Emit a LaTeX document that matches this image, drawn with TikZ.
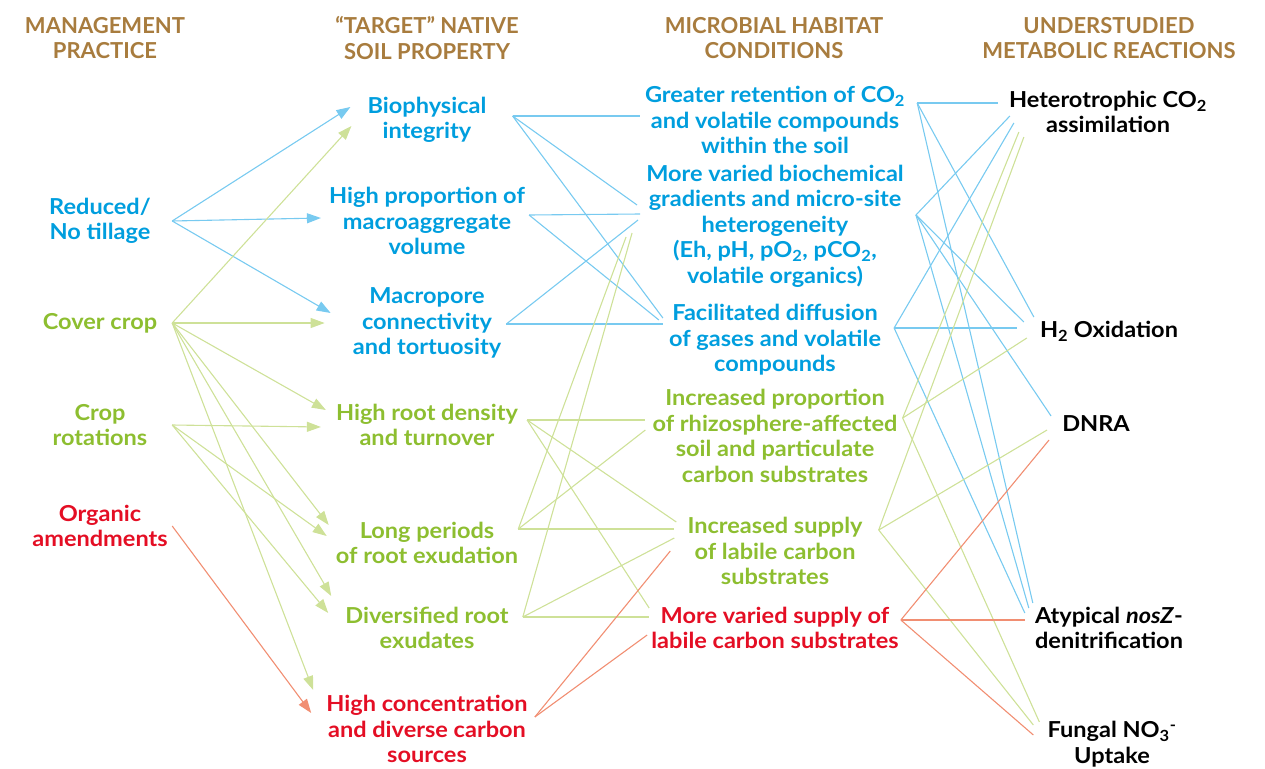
\documentclass[tikz,border=0pt]{standalone}
\usepackage{fontspec}
\setmainfont{Lato}[FakeStretch=1.07]
\newfontfamily\headfont{Lato}
\usetikzlibrary{arrows.meta}

\definecolor{headbrown}{RGB}{168,124,62}
\definecolor{soilblue}{RGB}{0,158,222}
\definecolor{soilgreen}{RGB}{141,190,48}
\definecolor{soilred}{RGB}{228,14,36}
\definecolor{linkblue}{RGB}{120,202,240}
\definecolor{linkgreen}{RGB}{206,225,152}
\definecolor{linkred}{RGB}{241,142,114}

\tikzset{
  lab/.style={align=center,inner sep=4pt,font=\fontsize{22}{25.5}\selectfont\bfseries},
  head/.style={lab,text=headbrown,font=\fontsize{22}{25.5}\headfont\bfseries},
  practice/.style={lab,minimum width=144pt},
  link/.style={line width=1.1pt},
  push/.style={link,-{Triangle[length=14pt,width=10pt]}}
}

\begin{document}
\begin{tikzpicture}[x=1pt,y=-1pt]
\useasboundingbox (0,0) rectangle (1265,768);

% headings
\node[head] (h1) at (105,38) {MANAGEMENT\\PRACTICE};
\node[head] (h2) at (427,38) {“TARGET” NATIVE\\SOIL PROPERTY};
\node[head] (h3) at (774,38) {MICROBIAL HABITAT\\CONDITIONS};
\node[head] (h4) at (1109,38) {UNDERSTUDIED\\METABOLIC REACTIONS};

% practices
\node[practice,text=soilblue] (till) at (100,221) {Reduced/\\No tillage};
\node[practice,text=soilgreen] (cover) at (100,323) {Cover crop};
\node[practice,text=soilgreen] (rotat) at (100,425) {Crop\\rotations};
\node[practice,text=soilred] (organic) at (100,526) {Organic\\amendments};

% soil properties
\node[lab,text=soilblue] (bio) at (427,120) {Biophysical\\integrity};
\node[lab,text=soilblue] (agg) at (427,221) {High proportion of\\macroaggregate\\volume};
\node[lab,text=soilblue] (pore) at (427,323) {Macropore\\connectivity\\and tortuosity};
\node[lab,text=soilgreen] (dens) at (427,425) {High root density\\and turnover};
\node[lab,text=soilgreen] (long) at (427,543) {Long periods\\of root exudation};
\node[lab,text=soilgreen] (div) at (427,628) {Diversified root\\exudates};
\node[lab,text=soilred] (conc) at (427,729) {High concentration\\and diverse carbon\\sources};

% habitat conditions
\node[lab,text=soilblue] (ret) at (775,120) {Greater retention of CO\textsubscript{2}\\and volatile compounds\\within the soil};
\node[lab,text=soilblue] (var) at (775,226) {More varied biochemical\\gradients and micro-site\\heterogeneity\\(Eh, pH, pO\textsubscript{2}, pCO\textsubscript{2},\\volatile organics)};
\node[lab,text=soilblue] (diff) at (775,340) {Facilitated diffusion\\of gases and volatile\\compounds};
\node[lab,text=soilgreen] (prop) at (775,436) {Increased proportion\\of rhizosphere-affected\\soil and particulate\\carbon substrates};
\node[lab,text=soilgreen] (sup) at (775,551) {Increased supply\\of labile carbon\\substrates};
\node[lab,text=soilred] (vsup) at (775,628) {More varied supply of\\labile carbon substrates};

% reactions
\node[lab] (hetero) at (1108,112) {Heterotrophic CO\textsubscript{2}\\assimilation};
\node[lab] (htwo) at (1109,331) {H\textsubscript{2} Oxidation};
\node[lab] (dnra) at (1096,424) {DNRA};
\node[lab] (nosz) at (1109,628) {Atypical \textit{nosZ}-\\denitrification};
\node[lab] (fungal) at (1112,744) {Fungal NO\textsubscript{3}\textsuperscript{-}\\Uptake};

% fan-out points
\foreach \n/\dx/\dy in {bio/22/-4,agg/0/-6,pore/1/1,dens/5/-5,long/-4/-14,div/10/-11,conc/3/-12,
    ret/8/-17,var/8/-11,diff/9/-12,prop/1/-18,sup/12/-21,vsup/-2/-8}
  \coordinate (\n-o) at ([shift={(\dx,\dy)}]\n.east);

% practice -> property
\foreach \s/\t/\dx/\dy in {till/bio/-13/-13,till/agg/-4/-3,till/pore/-18/-10}
  \draw[push,linkblue] (\s.east) -- ([shift={(\dx,\dy)}]\t.west);
\foreach \s/\t/\dx/\dy in {cover/bio/-12/6,cover/pore/-24/0,cover/dens/-6/-15,cover/long/-3/-18,
    cover/div/-10/-32,cover/conc/-9/-39,rotat/dens/-11/2,rotat/long/-5/-7,rotat/div/-13/-15}
  \draw[push,linkgreen] (\s.east) -- ([shift={(\dx,\dy)}]\t.west);
\draw[push,linkred] (organic.east) -- ([shift={(-11,-16)}]conc.west);

% property -> habitat
\foreach \s/\t/\dx/\dy in {bio/ret/-1/-4,bio/var/-5/-21,bio/diff/-2/-22,agg/var/-2/-12,
    agg/diff/-6/-20,pore/var/-4/-6,pore/diff/-2/-16}
  \draw[link,linkblue] (\s-o) -- ([shift={(\dx,\dy)}]\t.west);
\foreach \s/\t/\dx/\dy in {dens/prop/-3/-16,dens/sup/-7/-29,dens/vsup/2/-20,long/var/-16/11,
    long/prop/-3/-6,long/sup/-9/-22,div/var/-10/7,div/sup/-9/-13,div/vsup/2/-11}
  \draw[link,linkgreen] (\s-o) -- ([shift={(\dx,\dy)}]\t.west);
\foreach \s/\t/\dx/\dy in {conc/sup/-13/0,conc/vsup/0/7}
  \draw[link,linkred] (\s-o) -- ([shift={(\dx,\dy)}]\t.west);

% habitat -> reaction
\foreach \s/\t/\dx/\dy in {ret/hetero/-7/-9,ret/htwo/-2/-14,ret/nosz/2/-25,var/hetero/5/4,
    var/htwo/-12/-9,var/nosz/-2/-20,var/dnra/-7/-8,diff/hetero/9/11,diff/htwo/-19/-3,diff/nosz/-6/-15}
  \draw[link,linkblue] (\s-o) -- ([shift={(\dx,\dy)}]\t.west);
\foreach \s/\t/\dx/\dy in {prop/hetero/14/20,prop/htwo/-9/7,prop/fungal/-4/-22,
    sup/hetero/19/25,sup/dnra/-11/6,sup/fungal/-10/-19}
  \draw[link,linkgreen] (\s-o) -- ([shift={(\dx,\dy)}]\t.west);
\foreach \s/\t/\dx/\dy in {vsup/dnra/-9/16,vsup/nosz/-6/-8,vsup/fungal/-10/-9}
  \draw[link,linkred] (\s-o) -- ([shift={(\dx,\dy)}]\t.west);
\end{tikzpicture}
\end{document}
